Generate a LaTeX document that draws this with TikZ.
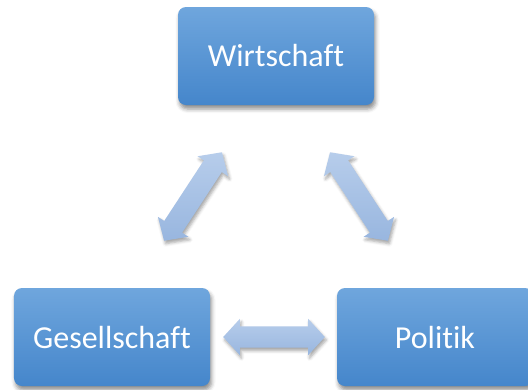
\documentclass[tikz,border=0pt]{standalone}
\usepackage{fontspec}
\setmainfont{Carlito}[Ligatures={NoCommon}]
\usetikzlibrary{calc,shapes.arrows,shadows.blur}

\definecolor{boxtop}{HTML}{6FA6DD}
\definecolor{boxbot}{HTML}{4586CB}
\definecolor{arrtop}{HTML}{B7CDEB}
\definecolor{arrbot}{HTML}{98B6DF}

\tikzset{
  topic/.style={
    rectangle, rounded corners=8bp,
    minimum width=196bp, minimum height=98bp,
    top color=boxtop, bottom color=boxbot, draw=none,
    text=white, font=\fontsize{32bp}{38bp}\selectfont,
    blur shadow={shadow xshift=1.5bp, shadow yshift=-4bp,
                 shadow blur radius=4bp, shadow opacity=45}
  },
  link/.style={
    double arrow, draw=none, inner xsep=0pt, inner ysep=10.5bp,
    minimum width=0pt, double arrow head extend=7.5bp,
    double arrow tip angle=95,
    top color=arrtop, bottom color=arrbot,
    blur shadow={shadow xshift=1.5bp, shadow yshift=-3bp,
                 shadow blur radius=3bp, shadow opacity=35}
  }
}

% double arrow between two named points
\newcommand\linkarrow[2]{%
  \path let \p1=($(#2)-(#1)$) in
    node[link, rotate={atan2(\y1,\x1)}, minimum height={veclen(\x1,\y1)}]
      at ($(#1)!0.5!(#2)$) {};}

\begin{document}
\begin{tikzpicture}[x=1bp,y=-1bp]
  \useasboundingbox (0,0) rectangle (528,389);
  \clip (0,0) rectangle (528,389);

  \node[topic] (w) at (276,56)  {Wirtschaft};
  \node[topic] (g) at (112,337) {Gesellschaft};
  \node[topic] (p) at (435,337) {Politik};

  \coordinate (gw) at ($(g.north)+(52,-47)$);
  \coordinate (wg) at ($(w.south)+(-54,47)$);
  \coordinate (wp) at ($(w.south)+(54,47)$);
  \coordinate (pw) at ($(p.north)+(-47,-47)$);
  \coordinate (gp) at ($(g.east)+(13,0)$);
  \coordinate (pg) at ($(p.west)+(-12,0)$);

  \linkarrow{gw}{wg}
  \linkarrow{wp}{pw}
  \linkarrow{gp}{pg}
\end{tikzpicture}
\end{document}
